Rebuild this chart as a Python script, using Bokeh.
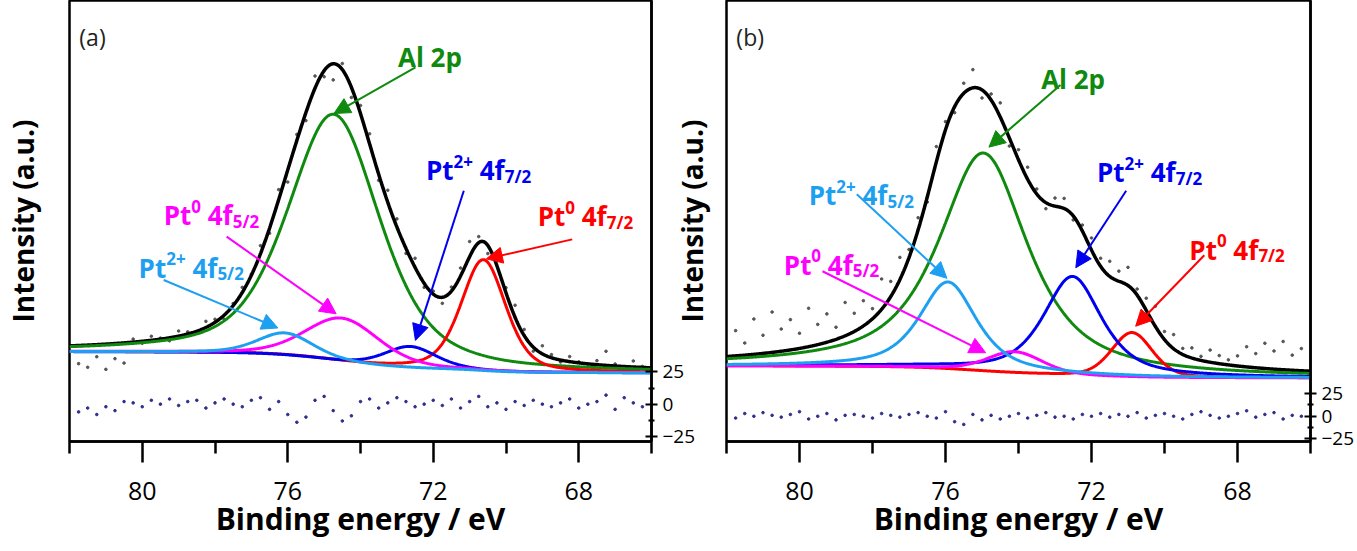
import numpy as np
from bokeh.plotting import figure
from bokeh.models import Range1d, LinearAxis, FixedTicker, Arrow, NormalHead, Label
from bokeh.layouts import row
from bokeh.embed import file_html
from bokeh.resources import INLINE

FONT = "Open Sans"

# ---------------- data ----------------
# binding energies of the measured points (eV)
energy = [round(81.75 - 0.25 * i, 2) for i in range(63)]

# fit components: (centre eV, height above background, FWHM eV, Lorentzian fraction)
a_al2p = (74.73, 244, 3.0, 0.5)
a_pt2_52 = (76.07, 22, 1.8, 0.4)
a_pt0_52 = (74.50, 43, 2.4, 0.3)
a_pt2_72 = (72.63, 21, 1.7, 0.4)
a_pt0_72 = (70.62, 110, 1.45, 0.4)
a_background = (89, 68)          # level at 82 eV, level at 66 eV

b_al2p = (74.96, 216, 2.9, 0.8)
b_pt2_52 = (75.93, 86, 1.85, 0.7)
b_pt0_52 = (74.10, 21, 1.8, 0.3)
b_pt2_72 = (72.52, 98, 1.9, 0.7)
b_pt0_72 = (70.89, 44, 1.32, 0.3)
b_background = (75, 63)

# measured - fit (intensity units) and plotted residual (residual axis units)
a_dev = [-18, -22, -12, -25, -15, -20,
         3, -2, 4, 1, -3, 5, 2, -1, 6, 3, -4, 2, 5, 1,
         8, -5, 10, -12, 6, -8, 12, -6,
         -16, 6, -10, 8,
         10, -6, 12, 8, -5, 9, -4, 3,
         -6, 4, 8, 15, 6, -8, 10, 5,
         12, 6, -4, 8, 3, -2, 5, 1, -3, 4, 14, 2, -2, 6, 1]
a_res = [-6, -3, -8, -2, -5, 2,
         1, -2, 3, 0, 4, -1, 2, 3, -3, 1, 4, 0, -2, 3,
         5, -4, 2, -8, -14, -10, 3, 6,
         -5, -13, -9, 2,
         4, -3, 1, 5, 2, -2, 0, 3,
         -1, 4, -3, 2, 6, -2, 1, -4,
         2, -1, 3, 0, -2, 1, 4, -3, 0, 2, 7, -4, 5, 1, -2]
b_dev = [25, 12, 35, 18, 40, 22,
         30, 15, 38, 20, 28, 12, 33, 18,
         25, 10, 30, 15, 22, 8,
         12, -5, 15, 8, -6, 10, 18, -8,
         6, 14, -8, 10,
         12, 5, -6, 8, 10, -4, 6, 12,
         8, 15, 10, 18, 6, 12, 20, 8,
         14, 6, 10, 4, 12, 8, 5, 10, 20, 14, 25, 18, 28, 15, 22]
b_res = [-2, 3, 0, 4, 1, -1,
         2, 5, -3, 0, 3, -4, 1, 2,
         0, -2, 3, 1, -1, 2,
         4, 0, -2, 5, -6, -9, 2, -4,
         1, -3, 0, 3,
         -2, 1, 4, -1, 0, -3, 2, 0,
         3, -1, 2, 0, 4, -2, 1, 3,
         0, -3, 2, 5, 1, -2, 0, 3, 6, -1, 2, 4, -3, 1, 0]

x_ticks = [80, 76, 72, 68]
x_minor = [82, 78, 74, 70, 66]
res_ticks = [-25, 0, 25]

GREEN, RED, BLUE, MAGENTA, CYAN = "#0f8a0f", "#ff0000", "#0000f0", "#ff00ff", "#1ea0f0"

# ---------------- helpers ----------------
def pseudo_voigt(E, c, h, w, m):
    g = np.exp(-4 * np.log(2) * (E - c) ** 2 / w ** 2)
    lo = 1.0 / (1 + 4 * (E - c) ** 2 / w ** 2)
    return h * ((1 - m) * g + m * lo)


WID = {'P': 0.63, 't': 0.43, 'A': 0.72, 'l': 0.30, ' ': 0.26, 'p': 0.635,
       'f': 0.39, '/': 0.39, '+': 0.572}


def tw(s, size):
    return sum(WID.get(ch, 0.572) for ch in s) * size


def rich_label(p, x, y, pieces, color, size=26, small=17):
    off = 0.0
    for txt, kind in pieces:
        fs = size if kind == "n" else small
        if txt.startswith(" "):
            off += tw(" ", fs)
            txt = txt.lstrip()
        dy = {"n": 0, "sup": 9, "sub": -6}[kind]
        p.add_layout(Label(x=x, y=y, x_offset=off, y_offset=dy, text=txt,
                           text_color=color, text_font=FONT,
                           text_font_size=f"{fs}px", text_font_style="bold",
                           text_align="left", text_baseline="alphabetic"))
        off += tw(txt, fs)


def arrow(p, x0, y0, x1, y1, color):
    p.add_layout(Arrow(end=NormalHead(size=16, fill_color=color, line_color=color),
                       x_start=x0, y_start=y0, x_end=x1, y_end=y1,
                       line_color=color, line_width=2))


def panel(comps, background, dev, res, res_lo, res_hi, width, bl, br, tag, ylab_standoff):
    p = figure(width=width, height=543, output_backend="svg", toolbar_location=None,
               x_range=Range1d(82, 66), y_range=Range1d(0, 437),
               min_border_left=bl, min_border_right=br, min_border_top=0,
               min_border_bottom=102)
    p.background_fill_color = "white"
    p.border_fill_color = None
    p.outline_line_color = "black"
    p.outline_line_width = 2.5
    p.xgrid.visible = False
    p.ygrid.visible = False

    xa = p.xaxis[0]
    xa.ticker = FixedTicker(ticks=x_ticks, minor_ticks=x_minor)
    xa.major_tick_out = 21
    xa.major_tick_in = 0
    xa.minor_tick_out = 12
    xa.minor_tick_in = 0
    xa.major_tick_line_width = 2.5
    xa.minor_tick_line_width = 2.5
    xa.axis_line_width = 2.5
    xa.major_label_text_font = FONT
    xa.major_label_text_font_size = "25px"
    xa.major_label_text_color = "black"
    xa.major_label_standoff = 19
    xa.axis_label = "Binding energy / eV"
    xa.axis_label_text_font = FONT
    xa.axis_label_text_font_size = "30px"
    xa.axis_label_text_font_style = "bold"
    xa.axis_label_text_color = "black"
    xa.axis_label_standoff = -5

    ya = p.yaxis[0]
    ya.ticker = FixedTicker(ticks=[])
    ya.major_tick_out = 0
    ya.minor_tick_out = 0
    ya.major_label_standoff = 0
    ya.axis_line_color = None
    ya.axis_label = "Intensity (a.u.)"
    ya.axis_label_text_font = FONT
    ya.axis_label_text_font_size = "28px"
    ya.axis_label_text_font_style = "bold"
    ya.axis_label_text_color = "black"
    ya.axis_label_standoff = ylab_standoff

    p.extra_y_ranges = {"res": Range1d(res_lo, res_hi)}
    ra = LinearAxis(y_range_name="res",
                    ticker=FixedTicker(ticks=res_ticks, minor_ticks=[-12.5, 12.5]))
    ra.major_tick_in = 6
    ra.major_tick_out = 6
    ra.minor_tick_in = 3
    ra.minor_tick_out = 3
    ra.major_tick_line_width = 2
    ra.minor_tick_line_width = 2
    ra.axis_line_width = 2.5
    ra.major_label_text_font = FONT
    ra.major_label_text_font_size = "19px"
    ra.major_label_text_color = "black"
    ra.major_label_standoff = 5
    p.add_layout(ra, "right")

    # model curves
    Ef = np.linspace(82, 66, 801)
    peaks = [pseudo_voigt(Ef, *c) for c in comps]
    S = np.sum(peaks, axis=0)
    cum = np.cumsum(S[::-1])[::-1]
    bg = background[1] + (background[0] - background[1]) * cum / cum[0]
    env = bg + S

    # measured points and residual
    E = np.array(energy)
    fit_at = np.interp(E, Ef[::-1], env[::-1])
    p.scatter(E, fit_at + np.array(dev), size=2.6, color="#555555")
    p.scatter(E, res, size=2.6, color="#2e2e8c", y_range_name="res")

    p.line(Ef, env, line_color="black", line_width=3.5)
    colors = [GREEN, CYAN, MAGENTA, BLUE, RED]
    for k in [0, 4, 3, 2, 1]:
        p.line(Ef, bg + peaks[k], line_color=colors[k], line_width=3)

    p.add_layout(Label(x=81.73, y=401, text=tag, text_font=FONT, text_font_size="23px",
                       text_color="#222222", text_baseline="alphabetic"))
    return p


# ---------------- panel (a) ----------------
pa = panel([a_al2p, a_pt2_52, a_pt0_52, a_pt2_72, a_pt0_72], a_background, a_dev, a_res,
           -28.9, 312.5, 698, 69, 41, "(a)", 28)
rich_label(pa, 72.97, 381, [("Al 2p", "n")], GREEN)
rich_label(pa, 72.2, 269, [("Pt", "n"), ("2+", "sup"), (" 4f", "n"), ("7/2", "sub")], BLUE)
rich_label(pa, 69.13, 223, [("Pt", "n"), ("0", "sup"), (" 4f", "n"), ("7/2", "sub")], RED)
rich_label(pa, 79.41, 224, [("Pt", "n"), ("0", "sup"), (" 4f", "n"), ("5/2", "sub")], MAGENTA)
rich_label(pa, 80.1, 172, [("Pt", "n"), ("2+", "sup"), (" 4f", "n"), ("5/2", "sub")], CYAN)
arrow(pa, 72.49, 370.7, 74.73, 325, GREEN)
arrow(pa, 71.16, 248.5, 72.49, 100.2, BLUE)
arrow(pa, 68.18, 200.3, 70.54, 181, RED)
arrow(pa, 77.68, 203, 74.67, 126.5, MAGENTA)
arrow(pa, 79.41, 160, 76.27, 112.5, CYAN)

# ---------------- panel (b) ----------------
pb = panel([b_al2p, b_pt2_52, b_pt0_52, b_pt2_72, b_pt0_72], b_background, b_dev, b_res,
           -27.8, 457.8, 691, 60, 43, "(b)", 16)
pb.margin = (0, 0, 0, -32)   # let panel (b)'s margin overlap panel (a)'s right margin
rich_label(pb, 73.38, 359.5, [("Al 2p", "n")], GREEN)
rich_label(pb, 71.85, 267, [("Pt", "n"), ("2+", "sup"), (" 4f", "n"), ("7/2", "sub")], BLUE)
rich_label(pb, 79.75, 244, [("Pt", "n"), ("2+", "sup"), (" 4f", "n"), ("5/2", "sub")], CYAN)
rich_label(pb, 69.32, 190, [("Pt", "n"), ("0", "sup"), (" 4f", "n"), ("7/2", "sub")], RED)
rich_label(pb, 80.43, 175, [("Pt", "n"), ("0", "sup"), (" 4f", "n"), ("5/2", "sub")], MAGENTA)
arrow(pb, 72.85, 353.2, 74.81, 291.7, GREEN)
arrow(pb, 71.05, 248.5, 72.43, 172.2, BLUE)
arrow(pb, 78.43, 245, 75.96, 161.7, CYAN)
arrow(pb, 68.91, 184.5, 70.79, 114.2, RED)
arrow(pb, 79.37, 168.7, 74.9, 88, MAGENTA)

layout = row(pa, pb)
open("out.html", "w").write(file_html(layout, INLINE))
